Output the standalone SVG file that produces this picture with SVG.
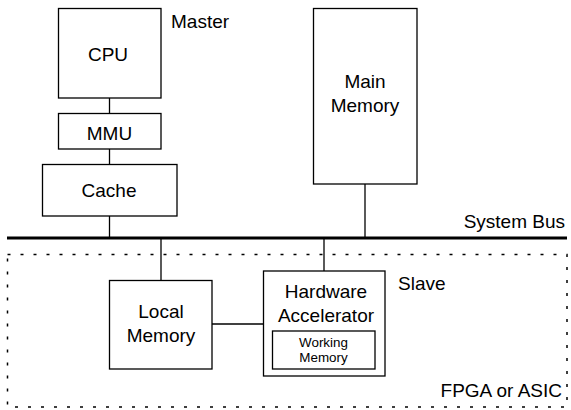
<svg xmlns="http://www.w3.org/2000/svg" width="571" height="410" viewBox="0 0 571 410">
  <style>
    .box { fill: #ffffff; stroke: #000000; stroke-width: 1.3; }
    .wire { fill: none; stroke: #000000; stroke-width: 1.3; }
    .bus { fill: none; stroke: #000000; stroke-width: 3.2; }
    .fpga { fill: none; stroke: #000000; stroke-width: 1.5; stroke-dasharray: 3 10; }
    text { font-family: "Liberation Sans", Arial, Helvetica, sans-serif; font-size: 19px; fill: #000000; }
    .mid { text-anchor: middle; }
    .small { font-size: 13.4px; }
  </style>
  <rect width="571" height="410" fill="#ffffff"/>

  <!-- FPGA / ASIC boundary -->
  <g id="fpga">
    <rect class="fpga" x="7.5" y="254.5" width="559.5" height="152.5"/>
    <text x="562" y="397" text-anchor="end">FPGA or ASIC</text>
  </g>

  <!-- connectors -->
  <g id="connectors">
    <line class="bus" x1="7" y1="238" x2="567" y2="238"/>
    <line class="wire" x1="109.5" y1="98" x2="109.5" y2="113"/>
    <line class="wire" x1="109.5" y1="149" x2="109.5" y2="164"/>
    <line class="wire" x1="109.5" y1="216" x2="109.5" y2="238"/>
    <line class="wire" x1="365" y1="184" x2="365" y2="238"/>
    <line class="wire" x1="161" y1="238" x2="161" y2="280"/>
    <line class="wire" x1="324" y1="238" x2="324" y2="271"/>
    <line class="wire" x1="212" y1="324" x2="263" y2="324"/>
  </g>

  <g id="bus-label">
    <text x="565" y="228" text-anchor="end">System Bus</text>
  </g>

  <g id="cpu">
    <rect class="box" x="58.5" y="8.5" width="102.5" height="89.5"/>
    <text class="mid" x="108" y="60.5">CPU</text>
  </g>
  <g id="master-label">
    <text x="171" y="28">Master</text>
  </g>

  <g id="mmu">
    <rect class="box" x="58.5" y="113.5" width="102.5" height="35.5"/>
    <text class="mid" x="109.5" y="140">MMU</text>
  </g>

  <g id="cache">
    <rect class="box" x="42.5" y="164.5" width="134.5" height="51.5"/>
    <text class="mid" x="109" y="197">Cache</text>
  </g>

  <g id="main-memory">
    <rect class="box" x="313.5" y="8.5" width="103.5" height="175.5"/>
    <text class="mid" x="365" y="88">Main</text>
    <text class="mid" x="365" y="112">Memory</text>
  </g>

  <g id="local-memory">
    <rect class="box" x="109.5" y="280.5" width="102.5" height="88.5"/>
    <text class="mid" x="161" y="318">Local</text>
    <text class="mid" x="161" y="342">Memory</text>
  </g>

  <g id="hardware-accelerator">
    <rect class="box" x="263.5" y="271" width="121.5" height="105"/>
    <text class="mid" x="326" y="298">Hardware</text>
    <text class="mid" x="326" y="322">Accelerator</text>
  </g>

  <g id="working-memory">
    <rect class="box" x="272.5" y="331" width="102.5" height="38"/>
    <text class="mid small" x="323.5" y="347">Working</text>
    <text class="mid small" x="323.5" y="362">Memory</text>
  </g>

  <g id="slave-label">
    <text x="398" y="290">Slave</text>
  </g>
</svg>
